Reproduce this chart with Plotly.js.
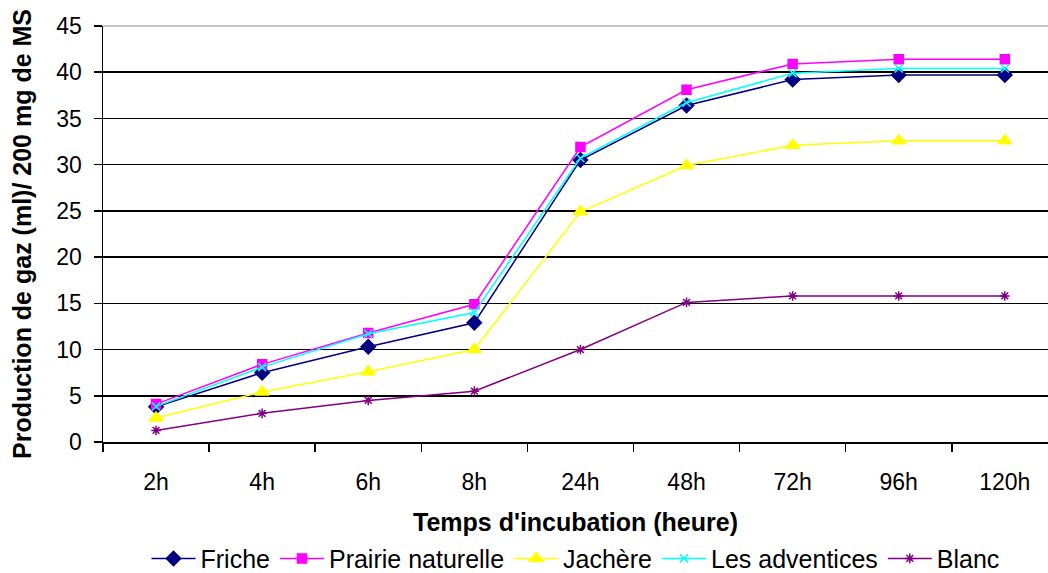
<!DOCTYPE html>
<html>
<head>
<meta charset="utf-8">
<script src="https://cdn.plot.ly/plotly-3.0.1.min.js"></script>
<style>html,body{margin:0;padding:0;background:#fff;}#chart{width:1048px;height:573px;}</style>
</head>
<body>
<div id="chart"></div>
<script>
var categories = ["2h", "4h", "6h", "8h", "24h", "48h", "72h", "96h", "120h"];
var friche = [3.8, 7.5, 10.3, 12.9, 30.5, 36.4, 39.2, 39.7, 39.7];
var prairie = [4.1, 8.4, 11.8, 14.9, 31.9, 38.1, 40.9, 41.4, 41.4];
var jachere = [2.6, 5.4, 7.6, 10.0, 24.9, 29.9, 32.1, 32.6, 32.6];
var adventices = [3.85, 8.1, 11.7, 14.0, 30.7, 36.7, 39.9, 40.4, 40.4];
var blanc = [1.25, 3.1, 4.5, 5.5, 10.0, 15.1, 15.8, 15.8, 15.8];
var seriesNames = ["Friche", "Prairie naturelle", "Jachère", "Les adventices", "Blanc"];
var yTicks = [0, 5, 10, 15, 20, 25, 30, 35, 40, 45];

var font = "Arial, 'Liberation Sans', sans-serif";

function tr(name, y, color, symbol, size) {
  return {
    type: "scatter", mode: "lines+markers", name: name,
    x: categories, y: y,
    line: {color: color, width: 1.5},
    marker: {symbol: symbol, size: size, color: color, line: {color: color, width: 1.5}}
  };
}

var data = [
  tr(seriesNames[0], friche, "#000080", "diamond", 11),
  tr(seriesNames[1], prairie, "#FF00FF", "square", 9),
  tr(seriesNames[2], jachere, "#FFFF00", "triangle-up", 12),
  tr(seriesNames[3], adventices, "#00FFFF", "x-thin-open", 8),
  tr(seriesNames[4], blanc, "#800080", "asterisk-open", 8)
];

var layout = {
  width: 1048, height: 573,
  margin: {l: 103, r: 0, t: 26, b: 131},
  paper_bgcolor: "#fff", plot_bgcolor: "#fff",
  font: {family: font, color: "#000", size: 22},
  showlegend: true,
  legend: {
    orientation: "h", x: 0.5, xanchor: "center",
    yref: "container", y: 0.025, yanchor: "middle",
    font: {family: font, size: 25, color: "#000"},
    itemwidth: 44, tracegroupgap: 0, borderwidth: 0
  },
  xaxis: {
    type: "category", range: [-0.5, 8.407],
    showline: true, linecolor: "#000", linewidth: 1.5,
    ticks: "outside", ticklen: 8, tickcolor: "#000", tickwidth: 1.5,
    tickson: "boundaries", showgrid: false, zeroline: false,
    ticklabelstandoff: 19,
    tickfont: {family: font, size: 23, color: "#000"},
    title: {text: "<b>Temps d'incubation (heure)</b>", font: {family: font, size: 25, color: "#000"}, standoff: 19},
    automargin: false, fixedrange: true
  },
  yaxis: {
    range: [0, 45], tickvals: yTicks, ticktext: yTicks.map(String),
    showline: true, linecolor: "#000", linewidth: 1.5,
    ticks: "outside", ticklen: 8, tickcolor: "#000", tickwidth: 1.5,
    showgrid: true, gridcolor: "#000", gridwidth: 1.5, zeroline: false,
    ticklabelstandoff: 7,
    tickfont: {family: font, size: 23, color: "#000"},
    title: {text: "<b>Production de gaz (ml)/ 200 mg de MS</b>", font: {family: font, size: 25, color: "#000"}, standoff: 17},
    automargin: false, fixedrange: true
  },
  shapes: [{type: "line", xref: "paper", yref: "paper", x0: 0, x1: 1, y0: 1, y1: 1, line: {color: "#c8c8c8", width: 2}}]
};

Plotly.newPlot("chart", data, layout, {displayModeBar: false, staticPlot: true});
</script>
</body>
</html>
